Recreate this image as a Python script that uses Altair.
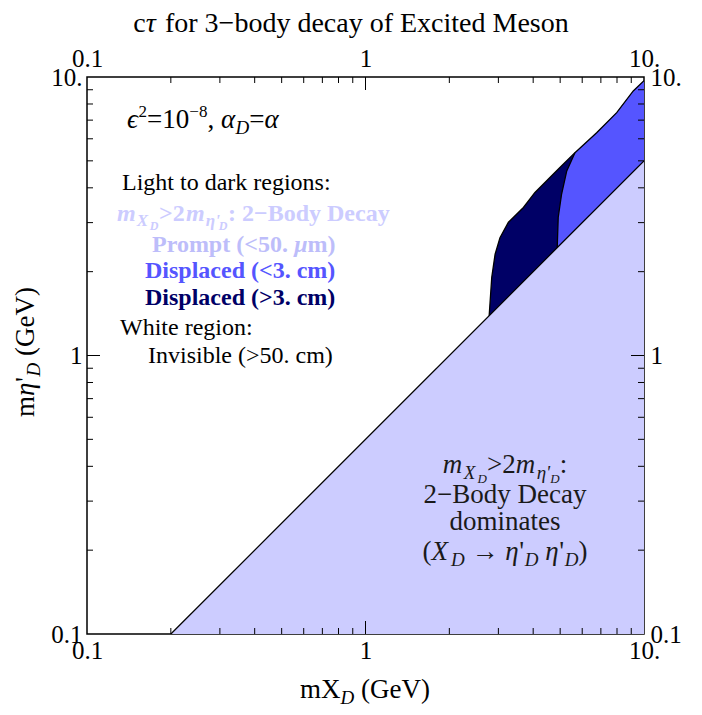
import altair as alt
import pandas as pd

W, H = 557, 557
OX, OY = 87, 77
FONT = "Liberation Serif"

# ---------------- data ----------------
light_x = [0.2, 10.0]
light_top = [0.1, 5.0]
light_bot = [0.1, 0.1]

dark_x = [2.78, 2.84, 2.92, 3.04, 3.26, 3.69, 4.06, 4.99, 5.65, 6.76, 7.98, 9.15, 10.0]
dark_top = [1.39, 1.91, 2.31, 2.65, 3.01, 3.40, 3.85, 4.73, 5.35, 6.31, 7.45, 8.91, 9.7]
dark_bot = [1.39, 1.42, 1.46, 1.52, 1.63, 1.845, 2.03, 2.495, 2.825, 3.38, 3.99, 4.575, 5.0]

med_x = [4.88, 4.92, 5.06, 5.28, 5.65, 6.76, 7.98, 9.15, 10.0]
med_top = [2.44, 3.13, 3.80, 4.60, 5.35, 6.31, 7.45, 8.91, 9.7]
med_bot = [2.44, 2.46, 2.53, 2.64, 2.825, 3.38, 3.99, 4.575, 5.0]

major_ticks = [0.1, 1.0, 10.0]
major_labels = ["0.1", "1", "10."]
minor_ticks = [0.2, 0.3, 0.4, 0.5, 0.6, 0.7, 0.8, 0.9, 2, 3, 4, 5, 6, 7, 8, 9]

C_LIGHT = "#ccccff"
C_PROMPT = "#bdbdfa"
C_MED = "#5555ff"
C_DARK = "#000066"

xs = alt.Scale(type="log", domain=[0.1, 10], nice=False)
ys = alt.Scale(type="log", domain=[0.1, 10], nice=False)


def area(x, top, bot, color):
    df = pd.DataFrame({"x": x, "top": top, "bot": bot})
    return alt.Chart(df).mark_area(color=color, opacity=1, orient="vertical", clip=True).encode(
        x=alt.X("x:Q", scale=xs, axis=None),
        y=alt.Y("top:Q", scale=ys, axis=None),
        y2="bot:Q",
    )


def outline(x, y):
    df = pd.DataFrame({"x": x, "y": y, "o": list(range(len(x)))})
    return alt.Chart(df).mark_line(color="black", strokeWidth=1.3, clip=True).encode(
        x=alt.X("x:Q", scale=xs, axis=None),
        y=alt.Y("y:Q", scale=ys, axis=None),
        order="o:Q",
    )


layers = [
    area(light_x, light_top, light_bot, C_LIGHT),
    area(dark_x, dark_top, dark_bot, C_DARK),
    area(med_x, med_top, med_bot, C_MED),
    outline(light_x, light_top),
    outline(dark_x, dark_top),
    outline(med_x[:5], med_top[:5]),
]


# ---------------- ticks (inward) ----------------
def xticks(vals, length):
    df = pd.DataFrame({"v": vals})
    base = alt.Chart(df).mark_rule(color="black", strokeWidth=1)
    b = base.encode(x=alt.X("v:Q", scale=xs, axis=None), y=alt.value(H), y2=alt.value(H - length))
    t = base.encode(x=alt.X("v:Q", scale=xs, axis=None), y=alt.value(0), y2=alt.value(length))
    return [b, t]


def yticks(vals, length):
    df = pd.DataFrame({"v": vals})
    base = alt.Chart(df).mark_rule(color="black", strokeWidth=1)
    l = base.encode(y=alt.Y("v:Q", scale=ys, axis=None), x=alt.value(0), x2=alt.value(length))
    r = base.encode(y=alt.Y("v:Q", scale=ys, axis=None), x=alt.value(W), x2=alt.value(W - length))
    return [l, r]


layers += xticks(minor_ticks, 6) + xticks([1.0], 13) + yticks(minor_ticks, 6) + yticks([1.0], 13)

# ---------------- axes (labels only) ----------------
label_expr = " : ".join(
    f"abs(datum.value - {v}) < {v * 0.01} ? '{s}'" for v, s in zip(major_ticks, major_labels)
) + " : ''"


def ax(orient, pad):
    return alt.Axis(
        orient=orient, values=major_ticks, labelExpr=label_expr, ticks=False, domain=False,
        grid=False, labelFontSize=25, labelFont=FONT, labelColor="black", labelPadding=pad,
        labelFlush=False, labelOverlap=False, title=None,
    )


tdf = pd.DataFrame({"v": major_ticks})
for orient, pad in [("bottom", 4), ("top", 6)]:
    layers.append(
        alt.Chart(tdf).mark_rule(opacity=0).encode(
            x=alt.X("v:Q", scale=xs, axis=ax(orient, pad)), y=alt.value(0), y2=alt.value(1)
        )
    )
for orient, pad in [("left", 5), ("right", 6)]:
    layers.append(
        alt.Chart(tdf).mark_rule(opacity=0).encode(
            y=alt.Y("v:Q", scale=ys, axis=ax(orient, pad)), x=alt.value(0), x2=alt.value(1)
        )
    )

# ---------------- composed text ----------------
CW = {" ": 250, "!": 333, "(": 333, ")": 333, ".": 250, ",": 250, ":": 278, "<": 564,
      ">": 564, "=": 564, "\u2212": 564, "\u2192": 1000, "'": 200, "\u03f5": 430, "\u03b1": 540,
      "\u03b7": 520, "\u03c4": 440, "\u03bc": 520,
      "A": 722, "B": 667, "C": 667, "D": 722, "E": 611, "G": 722, "I": 333, "L": 611, "M": 889,
      "P": 556, "V": 722, "W": 944, "X": 722,
      "a": 444, "b": 500, "c": 444, "d": 500, "e": 444, "f": 333, "g": 500, "h": 500, "i": 278,
      "k": 500, "l": 278, "m": 778, "n": 500, "o": 500, "p": 500, "r": 333, "s": 389, "t": 278,
      "u": 500, "v": 500, "w": 722, "x": 500, "y": 500, "z": 444}


def tw(text, size, bold):
    return sum(CW.get(ch, 500) for ch in text) * size / 1000.0 * (1.06 if bold else 1.0)


ONE = alt.Data(values=[{"k": 0}])


def text_block(segs, x0, y0, align="left", color="black", angle=0):
    """segs: (text, size, italic, bold, dy). x0,y0 page coords."""
    x0 -= OX
    y0 -= OY
    widths = [tw(s[0], s[1], s[3]) for s in segs]
    total = sum(widths)
    out = []
    if angle == 0:
        pos = x0 - total / 2 if align == "center" else x0
    else:
        pos = y0 + total / 2
    for (t, size, it, bold, dy), w in zip(segs, widths):
        lead = len(t) - len(t.lstrip(" "))
        shift = tw(" " * lead, size, bold)
        body = t.strip(" ")
        if angle == 0:
            px, py = pos + shift, y0 + dy
            pos += w
        else:
            px, py = x0 + dy, pos - shift
            pos -= w
        if body:
            out.append(
                alt.Chart(ONE).mark_text(
                    text=body, font=FONT, fontSize=size, fontStyle="italic" if it else "normal",
                    fontWeight="bold" if bold else "normal", align="left", baseline="alphabetic",
                    color=color, angle=angle,
                ).encode(x=alt.value(px), y=alt.value(py))
            )
    return out


def R(t, s=24, dy=0):
    return (t, s, False, False, dy)


def I(t, s=24, dy=0):
    return (t, s, True, False, dy)


def B(t, s=24, dy=0):
    return (t, s, False, True, dy)


def BI(t, s=24, dy=0):
    return (t, s, True, True, dy)


# title
layers += text_block([R("c", 28), I("\u03c4", 28), R(" for 3\u2212body decay of Excited Meson", 28)],
                     351, 32, align="center")
# axis titles
layers += text_block([R("mX", 27), I("D", 19, 6), R(" (GeV)", 27)], 365, 698, align="center")
layers += text_block([R("m", 27), I("\u03b7", 27), R("'", 27), I("D", 19, 6), R(" (GeV)", 27)],
                     34, 352, angle=270)

# legend block
layers += text_block([I("\u03f5", 27), R("2", 17, -11), R("=10", 27), R("\u22128", 17, -11), R(", ", 27),
                      I("\u03b1", 27), I("D", 19, 6), R("=", 27), I("\u03b1", 27)], 127, 128)
layers += text_block([R("Light to dark regions:", 24)], 122, 190)
layers += text_block([BI("m", 24), BI("X", 17, 5), BI("D", 12, 9), B(">2", 24), BI("m", 24),
                      BI("\u03b7'", 17, 5), BI("D", 12, 9), B(": 2\u2212Body Decay", 24)],
                     117, 221, color=C_LIGHT)
layers += text_block([B("Prompt (<50. ", 24), BI("\u03bc", 24), B("m)", 24)], 152, 252, color=C_PROMPT)
layers += text_block([B("Displaced (<3. cm)", 24)], 145, 278, color=C_MED)
layers += text_block([B("Displaced (>3. cm)", 24)], 145, 305, color=C_DARK)
layers += text_block([R("White region:", 24)], 120, 335)
layers += text_block([R("Invisible (>50. cm)", 24)], 148, 363)

# bottom-right annotation
TC = "#1a1a1a"
layers += text_block([I("m", 27), I("X", 19, 6), I("D", 13, 10), R(">2", 27), I("m", 27),
                      I("\u03b7'", 19, 6), I("D", 13, 10), R(":", 27)], 505, 473, align="center", color=TC)
layers += text_block([R("2\u2212Body Decay", 27)], 505, 503, align="center", color=TC)
layers += text_block([R("dominates", 27)], 505, 530, align="center", color=TC)
layers += text_block([R("(", 27), I("X", 27), I("D", 19, 6), R(" \u2192 ", 27), I("\u03b7", 27), R("'", 27),
                      I("D", 19, 6), R(" ", 27), I("\u03b7", 27), R("'", 27), I("D", 19, 6), R(")", 27)],
                     505, 560, align="center", color=TC)

chart = alt.layer(*layers).resolve_axis(x="independent", y="independent").properties(
    width=W, height=H,
    padding={"left": OX - 8, "top": OY - 8, "right": 40, "bottom": 80},
    autosize=alt.AutoSizeParams(type="none"),
    background="white",
).configure_view(stroke="black", strokeWidth=1.5)

chart.save("out.html", embed_options={"renderer": "svg", "actions": False})
